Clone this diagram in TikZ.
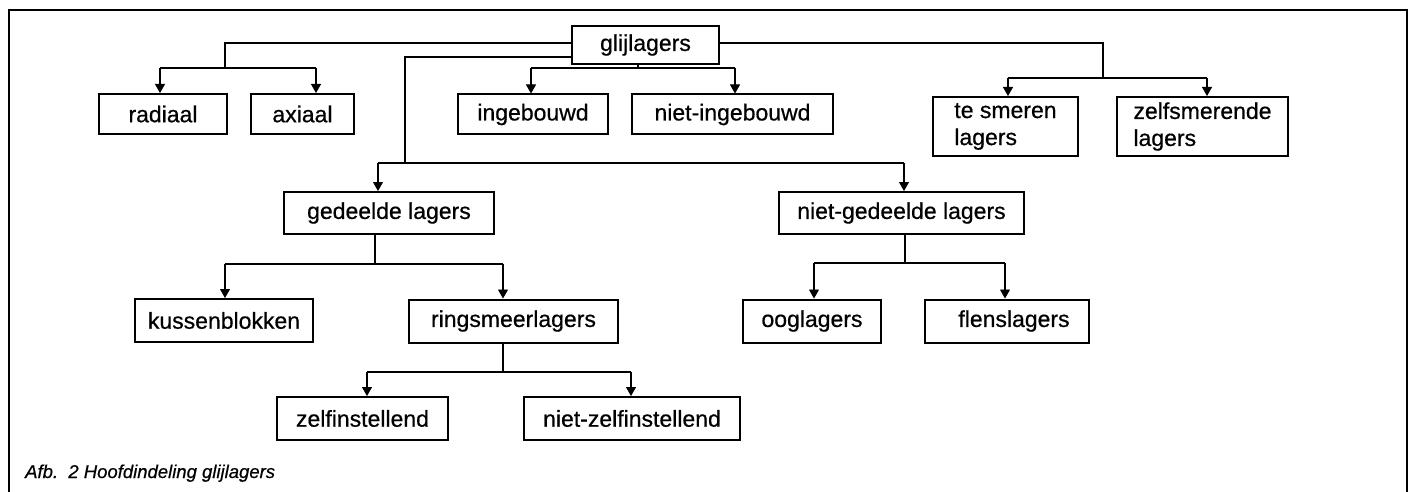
\documentclass[tikz,border=0pt]{standalone}
\usepackage{fontspec}
\setmainfont{Liberation Sans}
\newfontfamily\boxfont{Liberation Sans}[FakeBold=0.6]
\usetikzlibrary{arrows.meta}
\begin{document}
\begin{tikzpicture}[x=1pt,y=-1pt,
  box/.style={draw, line width=2pt, font=\boxfont\fontsize{23}{27}\selectfont, inner sep=0pt, anchor=center},
  conn/.style={line width=1.8pt},
  arr/.style={conn, -{Triangle[width=10pt, length=9pt, line width=0.8pt]}},
  frame/.style={line width=2pt}]
\useasboundingbox (0,0) rectangle (1411,492);
% frame
\coordinate (fBL) at (9,492);
\coordinate (fTL) at (9,10);
\coordinate (fTR) at (1407,10);
\coordinate (fBR) at (1407,492);
\draw[frame] (fBL) -- (fTL) -- (fTR) -- (fBR);

% nodes
\node[box, minimum width=147pt, minimum height=38pt] (glij) at (645.5,45) {glijlagers};
\node[box, minimum width=128pt, minimum height=40pt] (radiaal) at (163,114) {radiaal};
\node[box, minimum width=103pt, minimum height=40pt] (axiaal) at (302.5,114) {axiaal};
\node[box, minimum width=150pt, minimum height=40pt] (ingeb) at (533,114.5) {ingebouwd};
\node[box, minimum width=201pt, minimum height=40pt] (nietingeb) at (732.5,114.5) {niet-ingebouwd};
\node[box, minimum width=145pt, minimum height=59pt, align=left] (tesmeren) at (1005.5,126.5) {te smeren\\lagers};
\node[box, minimum width=171pt, minimum height=59pt, align=left] (zelfsm) at (1202.5,126.5) {zelfsmerende\\lagers};
\node[box, minimum width=210pt, minimum height=42pt] (gedeelde) at (389,213) {gedeelde lagers};
\node[box, minimum width=245pt, minimum height=42pt] (nietged) at (901.5,213) {niet-gedeelde lagers};
\node[box, minimum width=178pt, minimum height=43pt] (kussen) at (224,320.5) {kussenblokken};
\node[box, minimum width=209pt, minimum height=43pt] (ringsm) at (513.5,321) {ringsmeerlagers};
\node[box, minimum width=138pt, minimum height=43pt] (oog) at (812,321) {ooglagers};
\node[box, minimum width=164pt, minimum height=43pt] (flens) at (1007,321) {\hspace{14pt}flenslagers};
\node[box, minimum width=171pt, minimum height=43pt] (zelfinst) at (362.5,418.5) {zelfinstellend};
\node[box, minimum width=216pt, minimum height=43pt] (nietzelf) at (632,418.5) {niet-zelfinstellend};

% caption
\node[anchor=base west, inner sep=0pt, font=\boxfont\itshape\fontsize{18.5}{22}\selectfont] (cap) at (25,478) {Afb.\ \ 2 Hoofdindeling glijlagers};

% junction coordinates
\coordinate (jL) at (225,68);
\coordinate (rA) at (160,68);
\coordinate (rB) at (316,68);
\coordinate (gJ) at (638,68);
\coordinate (mA) at (531,68);
\coordinate (mB) at (735,68);
\coordinate (tJ) at (1103,78);
\coordinate (tA) at (1008,78);
\coordinate (tB) at (1207,78);
\coordinate (dJ) at (405,163);
\coordinate (dA) at (378,163);
\coordinate (dB) at (904,163);
\coordinate (kJ) at (375,264);
\coordinate (kA) at (225,264);
\coordinate (kB) at (503,264);
\coordinate (nJ) at (905,263);
\coordinate (oA) at (814,263);
\coordinate (oB) at (1005,263);
\coordinate (rJ) at (503,372);
\coordinate (zA) at (367,372);
\coordinate (zB) at (631,372);

% glijlagers -> radiaal / axiaal
\draw[conn] ([yshift=2pt]glij.west) -| (jL);
\draw[conn] (rA) -- (rB);
\draw[arr] (rA) -- (rA |- radiaal.north);
\draw[arr] (rB) -- (rB |- axiaal.north);

% glijlagers -> ingebouwd / niet-ingebouwd
\draw[conn] (gJ |- glij.south) -- (gJ);
\draw[conn] (mA) -- (mB);
\draw[arr] (mA) -- (mA |- ingeb.north);
\draw[arr] (mB) -- (mB |- nietingeb.north);

% glijlagers -> te smeren / zelfsmerende
\draw[conn] ([yshift=2pt]glij.east) -| (tJ);
\draw[conn] (tA) -- (tB);
\draw[arr] (tA) -- (tA |- tesmeren.north);
\draw[arr] (tB) -- (tB |- zelfsm.north);

% glijlagers -> gedeelde / niet-gedeelde
\draw[conn] ([yshift=-12pt]glij.west) -| (dJ);
\draw[conn] (dA) -- (dB);
\draw[arr] (dA) -- (dA |- gedeelde.north);
\draw[arr] (dB) -- (dB |- nietged.north);

% gedeelde -> kussenblokken / ringsmeerlagers
\draw[conn] (kJ |- gedeelde.south) -- (kJ);
\draw[conn] (kA) -- (kB);
\draw[arr] (kA) -- (kA |- kussen.north);
\draw[arr] (kB) -- (kB |- ringsm.north);

% niet-gedeelde -> ooglagers / flenslagers
\draw[conn] (nJ |- nietged.south) -- (nJ);
\draw[conn] (oA) -- (oB);
\draw[arr] (oA) -- (oA |- oog.north);
\draw[arr] (oB) -- (oB |- flens.north);

% ringsmeerlagers -> zelfinstellend / niet-zelfinstellend
\draw[conn] (rJ |- ringsm.south) -- (rJ);
\draw[conn] (zA) -- (zB);
\draw[arr] (zA) -- (zA |- zelfinst.north);
\draw[arr] (zB) -- (zB |- nietzelf.north);
\end{tikzpicture}
\end{document}
